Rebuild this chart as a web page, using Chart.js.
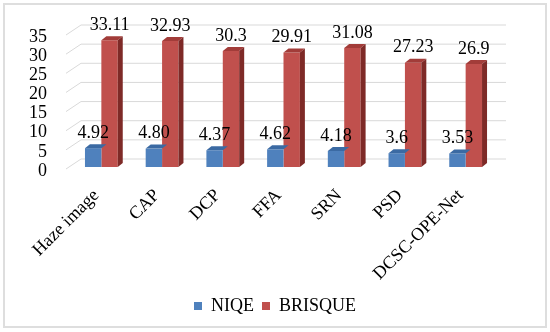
<!DOCTYPE html>
<html lang="en">
  <head>
    <meta charset="UTF-8" />
    <title>NIQE / BRISQUE</title>
    <style>
      body {
        margin: 0;
        background: #fff;
      }
      .frame {
        position: absolute;
        left: 3px;
        top: 3px;
        width: 540px;
        height: 321px;
        border: 2px solid #dedede;
      }
    </style>
  </head>
  <body>
    <div class="frame">
      <canvas id="myChart"></canvas>
    </div>
    <script src="https://cdn.jsdelivr.net/npm/chart.js"></script>
    <script>
      const categories = ["Haze image", "CAP", "DCP", "FFA", "SRN", "PSD", "DCSC-OPE-Net"];
      const niqe = [4.92, 4.8, 4.37, 4.62, 4.18, 3.6, 3.53];
      const brisque = [33.11, 32.93, 30.3, 29.91, 31.08, 27.23, 26.9];
      const niqeText = ["4.92", "4.80", "4.37", "4.62", "4.18", "3.6", "3.53"];
      const brisqueText = ["33.11", "32.93", "30.3", "29.91", "31.08", "27.23", "26.9"];
      const yTicks = [0, 5, 10, 15, 20, 25, 30, 35];

      const FONT = "Liberation Serif";
      const colors = ["#4f81bd", "#c0504d"];
      const tops = ["#3b6aa3", "#a23c39"];
      const sides = ["#2f5688", "#7e2a27"];

      // back wall grid lines with a slanted part on the left
      const wallPlugin = {
        id: "wall",
        beforeDatasetsDraw(chart) {
          const c = chart.ctx;
          const area = chart.chartArea;
          const ys = chart.scales.y;
          c.save();
          c.strokeStyle = "#d9d9d9";
          c.lineWidth = 1;
          yTicks.forEach(v => {
            const y = ys.getPixelForValue(v);
            c.beginPath();
            c.moveTo(area.left - 5, y + 2);
            c.lineTo(area.left + 10, y - 8);
            c.lineTo(area.right + 10, y - 8);
            c.stroke();
          });
          c.restore();
        }
      };

      // top and side faces of the bars, then the value labels
      const barsPlugin = {
        id: "bars3d",
        afterDatasetsDraw(chart) {
          const c = chart.ctx;
          const dx = 5;
          const dy = 4;
          const texts = [niqeText, brisqueText];
          c.save();
          chart.data.datasets.forEach((ds, di) => {
            chart.getDatasetMeta(di).data.forEach(bar => {
              const l = bar.x - bar.width / 2;
              const r = bar.x + bar.width / 2;
              c.fillStyle = tops[di];
              c.beginPath();
              c.moveTo(l, bar.y);
              c.lineTo(r, bar.y);
              c.lineTo(r + dx, bar.y - dy);
              c.lineTo(l + dx, bar.y - dy);
              c.closePath();
              c.fill();
              if (di == chart.data.datasets.length - 1) {
                c.fillStyle = sides[di];
                c.beginPath();
                c.moveTo(r, bar.y);
                c.lineTo(r + dx, bar.y - dy);
                c.lineTo(r + dx, bar.base - dy);
                c.lineTo(r, bar.base);
                c.closePath();
                c.fill();
              }
            });
          });
          c.fillStyle = "#000";
          c.font = "18px '" + FONT + "'";
          c.textAlign = "center";
          c.textBaseline = "middle";
          chart.data.datasets.forEach((ds, di) => {
            chart.getDatasetMeta(di).data.forEach((bar, i) => {
              c.fillText(texts[di][i], bar.x, bar.y - 15);
            });
          });
          c.restore();
        }
      };

      new Chart(document.getElementById("myChart"), {
        type: "bar",
        data: {
          labels: categories,
          datasets: [
            {
              label: "NIQE",
              data: niqe,
              backgroundColor: colors[0],
              categoryPercentage: 0.54,
              barPercentage: 1
            },
            {
              label: "BRISQUE",
              data: brisque,
              backgroundColor: colors[1],
              categoryPercentage: 0.54,
              barPercentage: 1
            }
          ]
        },
        options: {
          responsive: true,
          maintainAspectRatio: false,
          animation: false,
          layout: {
            padding: { top: 28, right: 0, bottom: 1, left: 0 }
          },
          plugins: {
            tooltip: { enabled: false },
            legend: {
              position: "bottom",
              labels: {
                boxWidth: 8,
                boxHeight: 8,
                padding: 8,
                color: "#000",
                font: { family: FONT, size: 18 }
              }
            }
          },
          scales: {
            x: {
              grid: { display: false },
              border: { display: false },
              ticks: {
                color: "#000",
                minRotation: 45,
                maxRotation: 45,
                padding: 10,
                labelOffset: -5,
                font: { family: FONT, size: 18 }
              },
              afterFit(scale) {
                scale.height = 122;
              }
            },
            y: {
              min: 0,
              max: 35,
              grid: { display: false },
              border: { display: false },
              afterBuildTicks(scale) {
                scale.ticks = yTicks.map(v => ({ value: v }));
              },
              ticks: {
                color: "#000",
                autoSkip: false,
                padding: 16,
                labelOffset: 4,
                font: { family: FONT, size: 18 }
              },
              afterFit(scale) {
                scale.width = 66;
              }
            },
            // empty right-hand space, so the legend stays centred on the frame
            yRight: {
              position: "right",
              min: 0,
              max: 35,
              grid: { display: false },
              border: { display: false },
              ticks: { display: false },
              afterFit(scale) {
                scale.width = 49;
              }
            }
          }
        },
        plugins: [wallPlugin, barsPlugin]
      });
    </script>
  </body>
</html>
